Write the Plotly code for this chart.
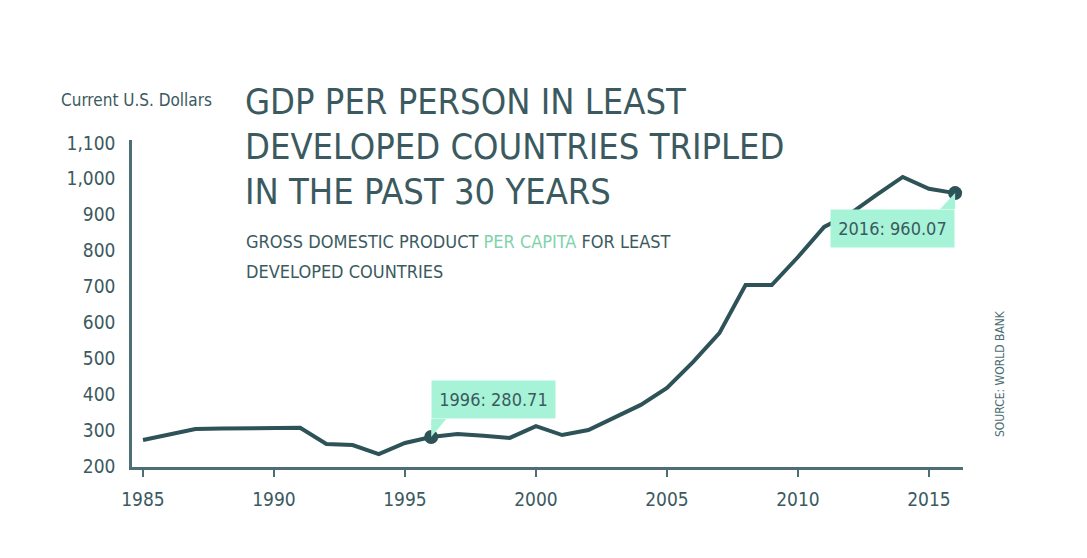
import plotly.graph_objects as go

# GDP per capita, least developed countries (current US$), World Bank
years = list(range(1985, 2017))
gdp = [272, 288, 303, 304, 305, 306, 306, 261, 258, 233, 264, 280.71,
       289, 284, 278, 311, 286, 300, 334, 370, 417, 490, 570, 704,
       704, 782, 866, 903, 955, 1005, 972, 960.07]

x_ticks = [1985, 1990, 1995, 2000, 2005, 2010, 2015]
y_ticks = [200, 300, 400, 500, 600, 700, 800, 900, 1000, 1100]
highlight_years = [1996, 2016]

title_lines = ["GDP PER PERSON IN LEAST",
               "DEVELOPED COUNTRIES TRIPLED",
               "IN THE PAST 30 YEARS"]

FONT = "DejaVu Sans Condensed, Liberation Sans Narrow, sans-serif"
DARK = "#3b5a60"
LINE = "#2d5257"
AXIS = "#4d6e73"
MINT = "#a7f3d7"
GREEN = "#7fd3ab"

W, H = 1087, 558
OFF = 8  # page margin around the plot div
L, T = 132 - OFF, 140 - OFF
PW, PH = 831, 327
R, B = W - L - PW, H - T - PH


def px(x, y):
    """reference pixel position -> paper coords"""
    return (x - OFF - L) / PW, 1 - (y - OFF - T) / PH


fig = go.Figure()
fig.add_trace(go.Scatter(x=years, y=gdp, mode="lines",
                         line=dict(color=LINE, width=4), hoverinfo="skip"))

hx = list(highlight_years)
hy = [gdp[years.index(y)] for y in highlight_years]

# callout tails (pixel offsets from the data point)
tails = ["M 0 0 L 0 18 L 15 18 Z", "M 0 0 L 0 -16 L -15 -16 Z"]
for xv, yv, path in zip(hx, hy, tails):
    fig.add_shape(type="path", xref="x", yref="y", xsizemode="pixel", ysizemode="pixel",
                  xanchor=xv, yanchor=yv, path=path, fillcolor=MINT, line=dict(width=0))

fig.add_trace(go.Scatter(x=hx, y=hy, mode="markers",
                         marker=dict(color=LINE, size=14), hoverinfo="skip"))

fig.add_annotation(x=hx[0], y=hy[0], xref="x", yref="y", text=f"{hx[0]}: {hy[0]:.2f}",
                   showarrow=False, xanchor="left", yanchor="bottom", yshift=18,
                   bgcolor=MINT, borderpad=4, width=115, height=29,
                   font=dict(family=FONT, size=18, color=DARK))
fig.add_annotation(x=hx[1], y=hy[1], xref="x", yref="y", text=f"{hx[1]}: {hy[1]:.2f}",
                   showarrow=False, xanchor="right", yanchor="top", yshift=-16,
                   bgcolor=MINT, borderpad=4, width=115, height=29,
                   font=dict(family=FONT, size=18, color=DARK))

# title block
for line, ypix in zip(title_lines, [101, 146, 191]):
    ax, ay = px(243, ypix)
    fig.add_annotation(x=ax, y=ay, xref="paper", yref="paper", text=line, showarrow=False,
                       xanchor="left", yanchor="middle",
                       font=dict(family=FONT, size=36, color=DARK))

sub = [f"GROSS DOMESTIC PRODUCT <span style='color:{GREEN}'>PER CAPITA</span> FOR LEAST",
       "DEVELOPED COUNTRIES"]
for line, ypix in zip(sub, [241, 271]):
    ax, ay = px(244, ypix)
    fig.add_annotation(x=ax, y=ay, xref="paper", yref="paper", text=line, showarrow=False,
                       xanchor="left", yanchor="middle",
                       font=dict(family=FONT, size=18, color=DARK))

ax, ay = px(59, 100)
fig.add_annotation(x=ax, y=ay, xref="paper", yref="paper", text="Current U.S. Dollars",
                   showarrow=False, xanchor="left", yanchor="middle",
                   font=dict(family=FONT, size=17, color=DARK))

ax, ay = px(1000, 374)
fig.add_annotation(x=ax, y=ay, xref="paper", yref="paper", text="SOURCE: WORLD BANK",
                   showarrow=False, textangle=-90, xanchor="center", yanchor="middle",
                   font=dict(family=FONT, size=12, color=AXIS))

fig.update_xaxes(range=[1984.58, 2016.3], tickvals=x_ticks, showgrid=False, zeroline=False,
                 showline=True, linecolor=AXIS, linewidth=2.5,
                 ticks="outside", ticklen=7, tickwidth=2, tickcolor=AXIS,
                 ticklabelstandoff=6,
                 tickfont=dict(family=FONT, size=19, color=DARK))
fig.update_yaxes(range=[197, 1108], tickvals=y_ticks, tickformat=",", showgrid=False,
                 zeroline=False, showline=True, linecolor=AXIS, linewidth=2.5,
                 ticks="", ticklabelstandoff=10,
                 tickfont=dict(family=FONT, size=19, color=DARK))

fig.update_layout(width=W, height=H, margin=dict(l=L, r=R, t=T, b=B),
                  plot_bgcolor="white", paper_bgcolor="white", showlegend=False)

fig.write_html("out.html")
